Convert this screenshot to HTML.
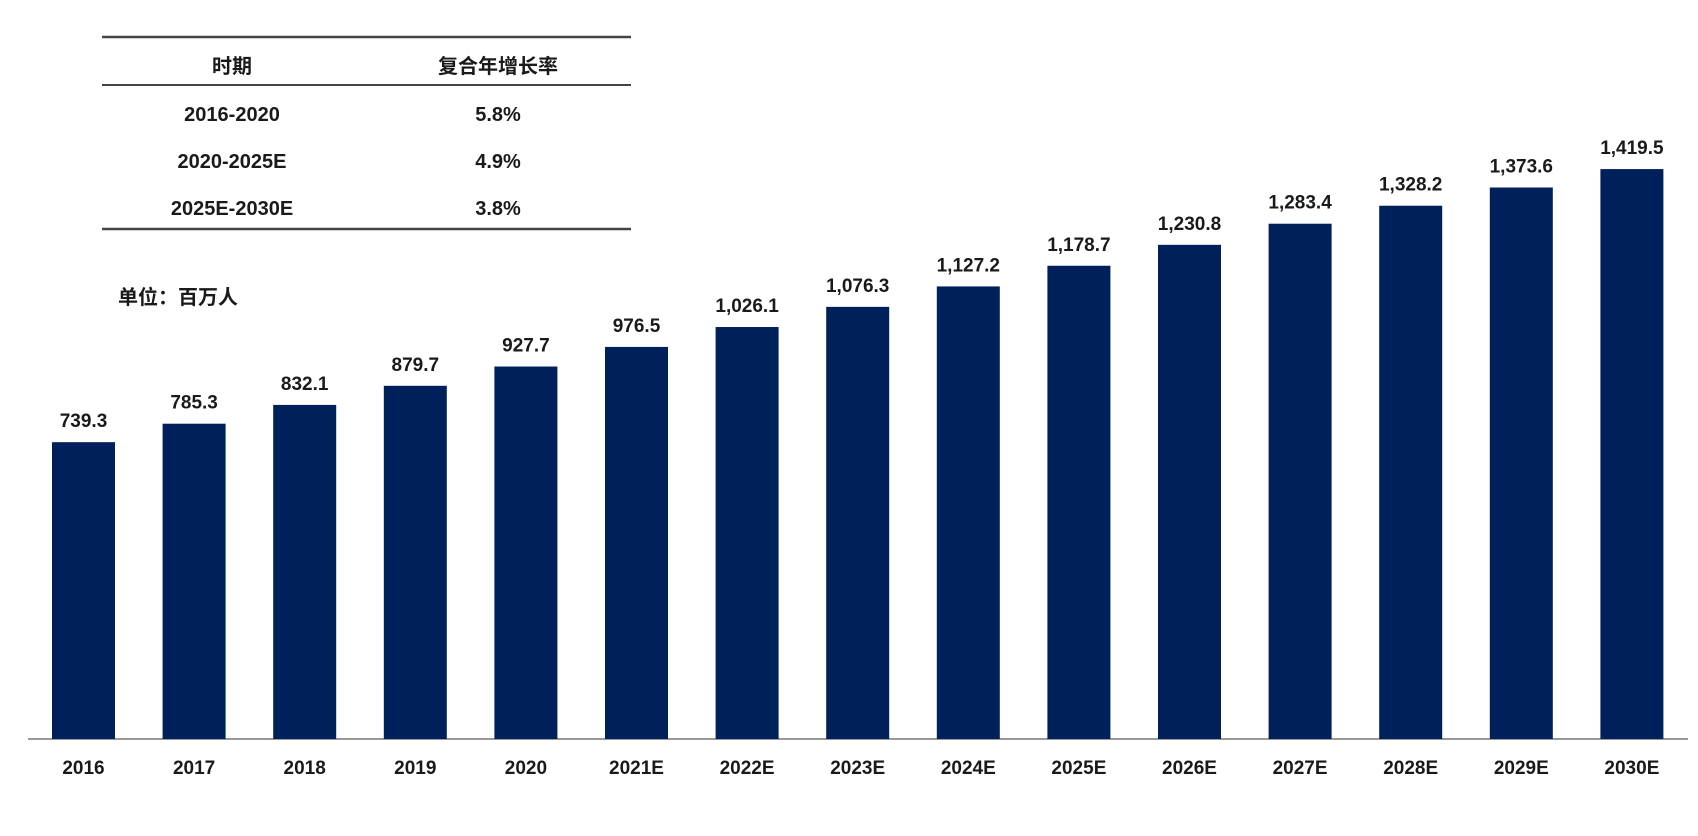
<!DOCTYPE html>
<html><head><meta charset="utf-8"><style>
body{margin:0;background:#fff;width:1698px;height:836px;overflow:hidden}
svg{display:block}
text{font-family:"Liberation Sans","Noto Sans CJK SC",sans-serif;font-weight:bold;fill:#1a1a1a}
</style></head><body>
<svg id="chart" width="1698" height="836" xmlns="http://www.w3.org/2000/svg">
<g>
<line x1="102" y1="37" x2="631" y2="37" stroke="#444" stroke-width="2.5"/>
<line x1="102" y1="85" x2="631" y2="85" stroke="#444" stroke-width="2"/>
<line x1="102" y1="229" x2="631" y2="229" stroke="#444" stroke-width="2.5"/>
<text x="232" y="73" text-anchor="middle" font-size="20">时期</text>
<text x="498" y="73" text-anchor="middle" font-size="20">复合年增长率</text>
<text x="232" y="121" text-anchor="middle" font-size="20">2016-2020</text>
<text x="498" y="121" text-anchor="middle" font-size="20">5.8%</text>
<text x="232" y="168" text-anchor="middle" font-size="20">2020-2025E</text>
<text x="498" y="168" text-anchor="middle" font-size="20">4.9%</text>
<text x="232" y="215" text-anchor="middle" font-size="20">2025E-2030E</text>
<text x="498" y="215" text-anchor="middle" font-size="20">3.8%</text>
</g>
<text x="118" y="304" font-size="20">单位：百万人</text>
<line x1="28" y1="739" x2="1688" y2="739" stroke="#999" stroke-width="2"/>
<g id="bars"></g>
</svg>
<script>
const categories=["2016","2017","2018","2019","2020","2021E","2022E","2023E","2024E","2025E","2026E","2027E","2028E","2029E","2030E"];
const values=[739.3,785.3,832.1,879.7,927.7,976.5,1026.1,1076.3,1127.2,1178.7,1230.8,1283.4,1328.2,1373.6,1419.5];
const valueLabels=["739.3","785.3","832.1","879.7","927.7","976.5","1,026.1","1,076.3","1,127.2","1,178.7","1,230.8","1,283.4","1,328.2","1,373.6","1,419.5"];
const baseY=739, k=0.4015, x0=83.5, pitch=110.6, bw=63;
function xScale(i){return x0+i*pitch;}
function yScale(v){return baseY-v*k;}
const g=document.getElementById('bars');
const ns="http://www.w3.org/2000/svg";
categories.forEach((c,i)=>{
  const cx=xScale(i), y=yScale(values[i]);
  const r=document.createElementNS(ns,'rect');
  r.setAttribute('x',cx-bw/2);r.setAttribute('y',y);r.setAttribute('width',bw);r.setAttribute('height',baseY-y);r.setAttribute('fill','#00205B');
  
  
  g.appendChild(r);
  const t=document.createElementNS(ns,'text');
  t.setAttribute('x',cx);t.setAttribute('y',y-15);t.setAttribute('text-anchor','middle');t.setAttribute('font-size','19');
  t.textContent=valueLabels[i];
  
  
  g.appendChild(t);
  const l=document.createElementNS(ns,'text');
  l.setAttribute('x',cx);l.setAttribute('y',774);l.setAttribute('text-anchor','middle');l.setAttribute('font-size','19');
  l.textContent=c;
  
  
  g.appendChild(l);
});
</script>
</body></html>
